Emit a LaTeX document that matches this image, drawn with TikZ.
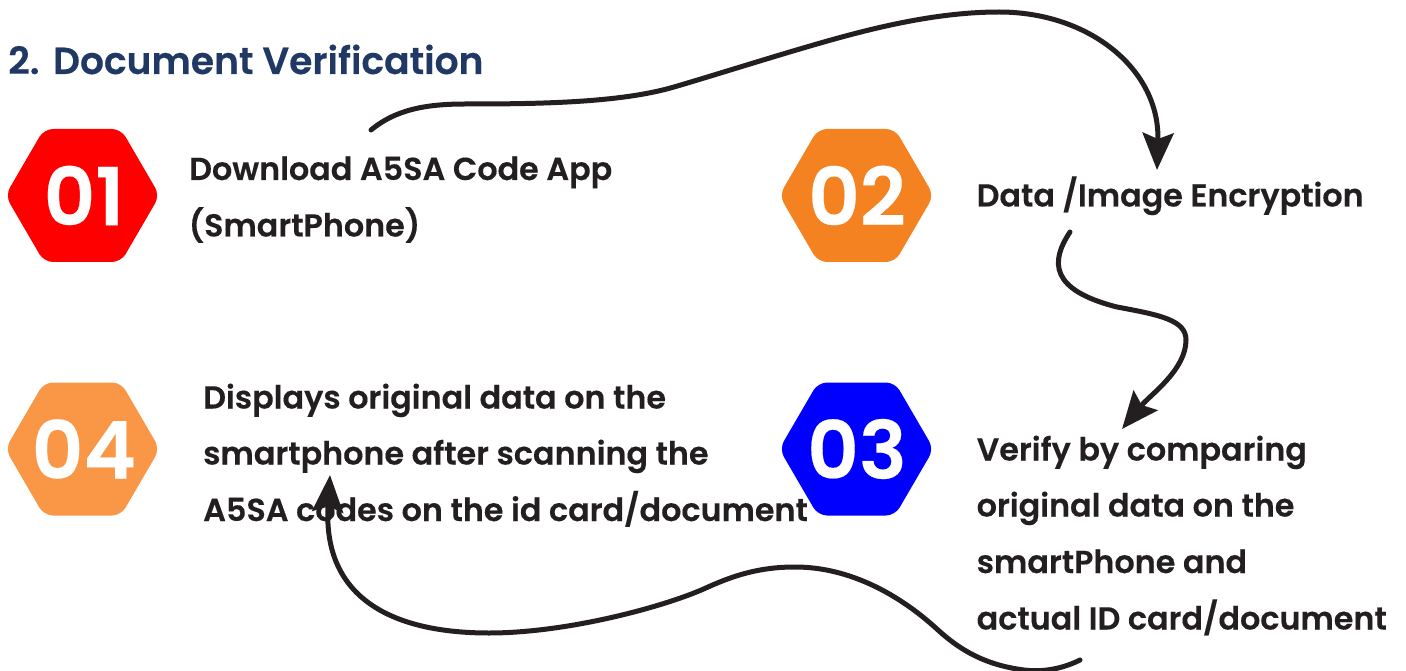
\documentclass[tikz,border=0pt]{standalone}
\usepackage{fontspec}
\setmainfont{Poppins}[BoldFont={* SemiBold},BoldFeatures={FakeBold=0.25}]
\usetikzlibrary{arrows.meta}
\definecolor{ink}{HTML}{231F20}
\definecolor{head}{HTML}{1F3864}
\definecolor{hRed}{HTML}{FF0000}
\definecolor{hOrange}{HTML}{F58220}
\definecolor{hBlue}{HTML}{0000FF}
\definecolor{hLight}{HTML}{F99746}
\tikzset{
 x=0.1pt,y=-0.1pt,
 hexa/.pic={\fill[rounded corners=9pt,pic actions] (-772,0)--(-385,-665)--(385,-665)--(772,0)--(385,665)--(-385,665)--cycle;},
 num/.style={font=\fontsize{80pt}{80pt}\selectfont\bfseries,text=white,inner sep=0pt},
 lab/.style={font=\fontsize{31.8pt}{36pt}\selectfont\bfseries,text=ink,inner sep=0pt,anchor=base west,align=left},
 flow/.style={draw=ink,line width=5pt,line cap=round,-{Stealth[length=37pt,width=31pt,inset=6pt]}},
}
\begin{document}
\begin{tikzpicture}
\useasboundingbox (0,0) rectangle (14060,6710);
\fill[white] (0,0) rectangle (14060,6710);
\node[font=\fontsize{37.6pt}{40pt}\selectfont\bfseries,text=head,inner sep=0pt,anchor=base west] (title) at (80,740) {2.\hspace{13.5pt}Document Verification};
\pic[fill=hRed] at (825,1955) {hexa};
\pic[fill=hOrange] at (8565,1955) {hexa};
\pic[fill=hBlue] at (8565,4490) {hexa};
\pic[fill=hLight] at (825,4490) {hexa};
\node[num] (n1) at (840,1955) {01};
\node[num] (n2) at (8570,1955) {02};
\node[num] (n3) at (8570,4490) {03};
\node[num] (n4) at (840,4490) {04};
\node[lab] (a1) at (1890,1800) {Download A5SA Code App};
\node[lab] (a2) at (1885,2365) {(SmartPhone)};
\node[lab] (b1) at (9765,2065) {Data /Image Encryption};
\node[lab] (c1) at (9765,4605) {Verify by comparing};
\node[lab] (c2) at (9765,5165) {original data on the};
\node[lab] (c3) at (9765,5730) {smartPhone and};
\node[lab] (c4) at (9765,6295) {actual ID card/document};
\node[lab] (d1) at (2030,4085) {Displays original data on the};
\node[lab] (d2) at (2030,4645) {smartphone after scanning the};
\node[lab] (d3) at (2030,5210) {A5SA codes on the id card/document};
\coordinate (s1) at (3710,1300);
\coordinate (e1) at (11570,1700);
\coordinate (s2) at (10700,2320);
\coordinate (e2) at (11220,4290);
\coordinate (s3) at (10800,6600);
\coordinate (e3) at (3300,4750);
\draw[flow] (s1) .. controls (3950,1100) and (4250,1040) .. (4650,1040)
  .. controls (5400,1040) and (6200,1028) .. (6740,870)
  .. controls (7200,735) and (7800,543) .. (8310,400)
  .. controls (8800,263) and (9400,120) .. (9990,120)
  .. controls (10900,120) and (11600,700) .. (e1);
\draw[flow] (s2) .. controls (10500,2620) and (10500,2900) .. (11170,3070)
  .. controls (11600,3150) and (11860,3200) .. (11860,3400)
  .. controls (11860,3700) and (11500,3950) .. (e2);
\draw[flow] (s3) .. controls (10600,6700) and (10400,6720) .. (10240,6700)
  .. controls (9850,6650) and (9600,6500) .. (9380,6300)
  .. controls (9000,5950) and (8500,5670) .. (7950,5670)
  .. controls (7600,5670) and (7350,5750) .. (7080,5870)
  .. controls (6700,6050) and (5700,6330) .. (4890,6330)
  .. controls (3950,6330) and (3220,6000) .. (e3);
\end{tikzpicture}
\end{document}
